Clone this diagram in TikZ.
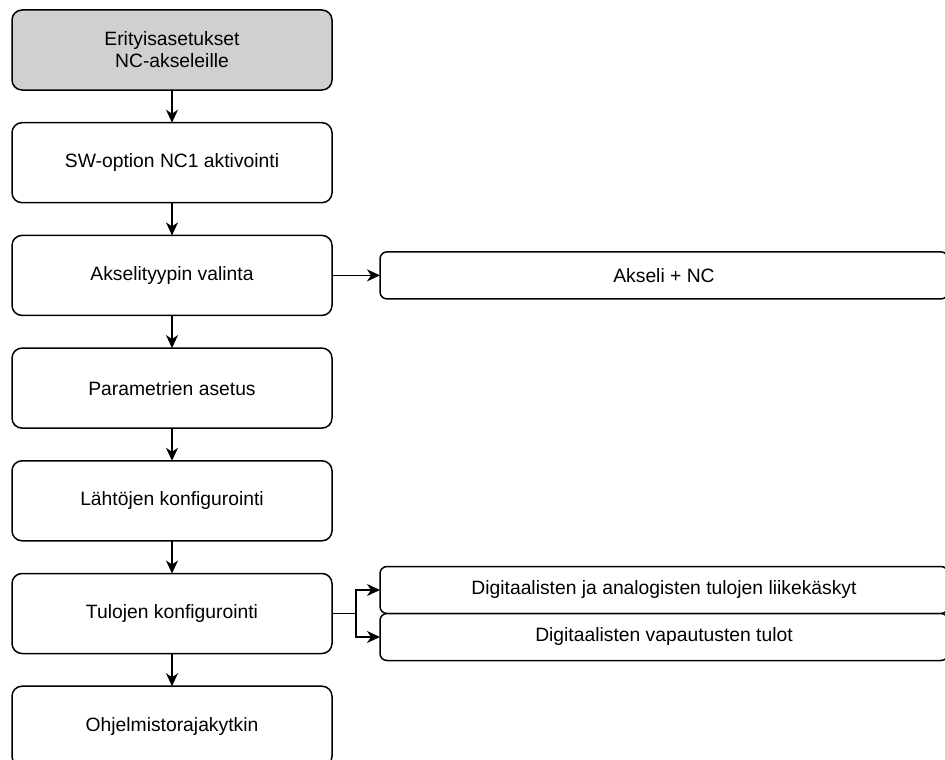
\documentclass[tikz,border=0pt]{standalone}
\usepackage{fontspec}
\setmainfont{Liberation Sans}
\usetikzlibrary{positioning,arrows.meta}
\definecolor{startgray}{HTML}{D0D0D0}
\begin{document}
\begin{tikzpicture}[x=1pt, y=-1pt, font=\fontsize{19.3}{22}\selectfont, node distance=32.7pt and 48pt,
  box/.style={draw=black, line width=1.5pt, rounded corners=10pt, align=center, minimum width=320pt, minimum height=80pt, inner sep=2pt, outer sep=0pt, fill=white},
  startbox/.style={box, fill=startgray},
  side/.style={box, minimum width=568pt, minimum height=47pt, rounded corners=7pt},
  arr/.style={-{Stealth[length=13pt,width=12pt,inset=4pt]}, line width=1.5pt}]
\useasboundingbox (0,0) rectangle (945,760);
\clip (0,0) rectangle (945,760);
\node[startbox] (start) at (172,50) {Erityisasetukset\\NC-akseleille};
\node[box, below=of start] (swopt) {SW-option NC1 aktivointi};
\node[box, below=of swopt] (tyyppi) {Akselityypin valinta};
\node[box, below=of tyyppi] (param) {Parametrien asetus};
\node[box, below=of param] (lahto) {Lähtöjen konfigurointi};
\node[box, below=of lahto] (tulo) {Tulojen konfigurointi};
\node[box, below=of tulo] (ohj) {Ohjelmistorajakytkin};
\node[side, right=of tyyppi] (nc) {Akseli + NC};
\node[side, anchor=south west] (dig1) at ([xshift=48pt]tulo.east) {Digitaalisten ja analogisten tulojen liikekäskyt};
\node[side, below=0pt of dig1] (dig2) {Digitaalisten vapautusten tulot};
\draw[arr] (start)--(swopt); \draw[arr] (swopt)--(tyyppi); \draw[arr] (tyyppi)--(param);
\draw[arr] (param)--(lahto); \draw[arr] (lahto)--(tulo); \draw[arr] (tulo)--(ohj);
\draw[arr] (tyyppi)--(nc);
\draw[arr] (tulo.east) -- ++(24pt,0) |- (dig1.west);
\draw[arr] (tulo.east) -- ++(24pt,0) |- (dig2.west);
\end{tikzpicture}
\end{document}
